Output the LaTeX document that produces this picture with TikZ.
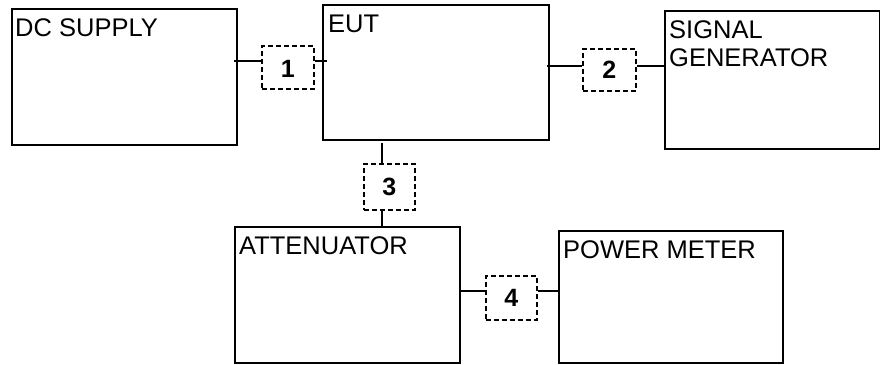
\documentclass[tikz,border=0pt]{standalone}
\usepackage{fontspec}
\setmainfont{Liberation Sans}
\begin{document}
\begin{tikzpicture}[x=1pt,y=-1pt,
  blk/.style={draw=black,line width=2pt,anchor=north west,inner sep=0pt},
  lbl/.style={anchor=base west,inner sep=0pt,font=\fontsize{25.5}{28}\selectfont,align=left},
  pad/.style={draw=black,line width=1.5pt,dash pattern=on 5pt off 3pt,anchor=north west,inner sep=0pt},
  num/.style={font=\fontsize{25}{25}\bfseries\selectfont,inner sep=0pt},
  wire/.style={line width=1.5pt}]
\useasboundingbox (0,0) rectangle (880,364);
% blocks
\node[blk,minimum width=225pt,minimum height=136pt] (dc) at (11,8) {};
\node[blk,minimum width=226pt,minimum height=135pt] (eut) at (322,4) {};
\node[blk,minimum width=215pt,minimum height=138pt] (sg) at (664,10) {};
\node[blk,minimum width=225pt,minimum height=136pt] (att) at (234,226) {};
\node[blk,minimum width=224pt,minimum height=132pt] (pm) at (558,230) {};
% labels
\node[lbl] (dct) at (15,36) {DC SUPPLY};
\node[lbl] (eutt) at (328,32) {EUT};
\node[lbl] (sgt) at (669,38) {SIGNAL};
\node[lbl] (sgt2) at (669,66) {GENERATOR};
\node[lbl] (attt) at (239,254) {ATTENUATOR};
\node[lbl] (pmt) at (563,258) {POWER METER};
% dashed pads
\node[pad,minimum width=52pt,minimum height=43pt] (p1) at (261,45) {};
\node[pad,minimum width=53pt,minimum height=42pt] (p2) at (582,48) {};
\node[pad,minimum width=51pt,minimum height=46pt] (p3) at (363,163) {};
\node[pad,minimum width=51pt,minimum height=44pt] (p4) at (485,275) {};
\node[num] (n1) at ([yshift=-2pt]p1.center) {1};
\node[num] (n2) at (p2.center) {2};
\node[num] (n3) at (p3.center) {3};
\node[num] (n4) at (p4.center) {4};
% connector levels
\coordinate (l1) at (0,61);
\coordinate (l2) at (0,66);
\coordinate (l3) at (382,0);
\coordinate (l4) at (0,291);
% connectors
\draw[wire] ([xshift=-4pt]dc.east |- l1) -- (p1.west |- l1);
\draw[wire] (p1.east |- l1) -- ([xshift=5pt]eut.west |- l1);
\draw[wire] ([xshift=-3pt]eut.east |- l2) -- (p2.west |- l2);
\draw[wire] (p2.east |- l2) -- (sg.west |- l2);
\draw[wire] ([yshift=-2pt]l3 |- eut.south) -- (l3 |- p3.north);
\draw[wire] (l3 |- p3.south) -- (l3 |- att.north);
\draw[wire] (att.east |- l4) -- (p4.west |- l4);
\draw[wire] (p4.east |- l4) -- (pm.west |- l4);
\end{tikzpicture}
\end{document}
